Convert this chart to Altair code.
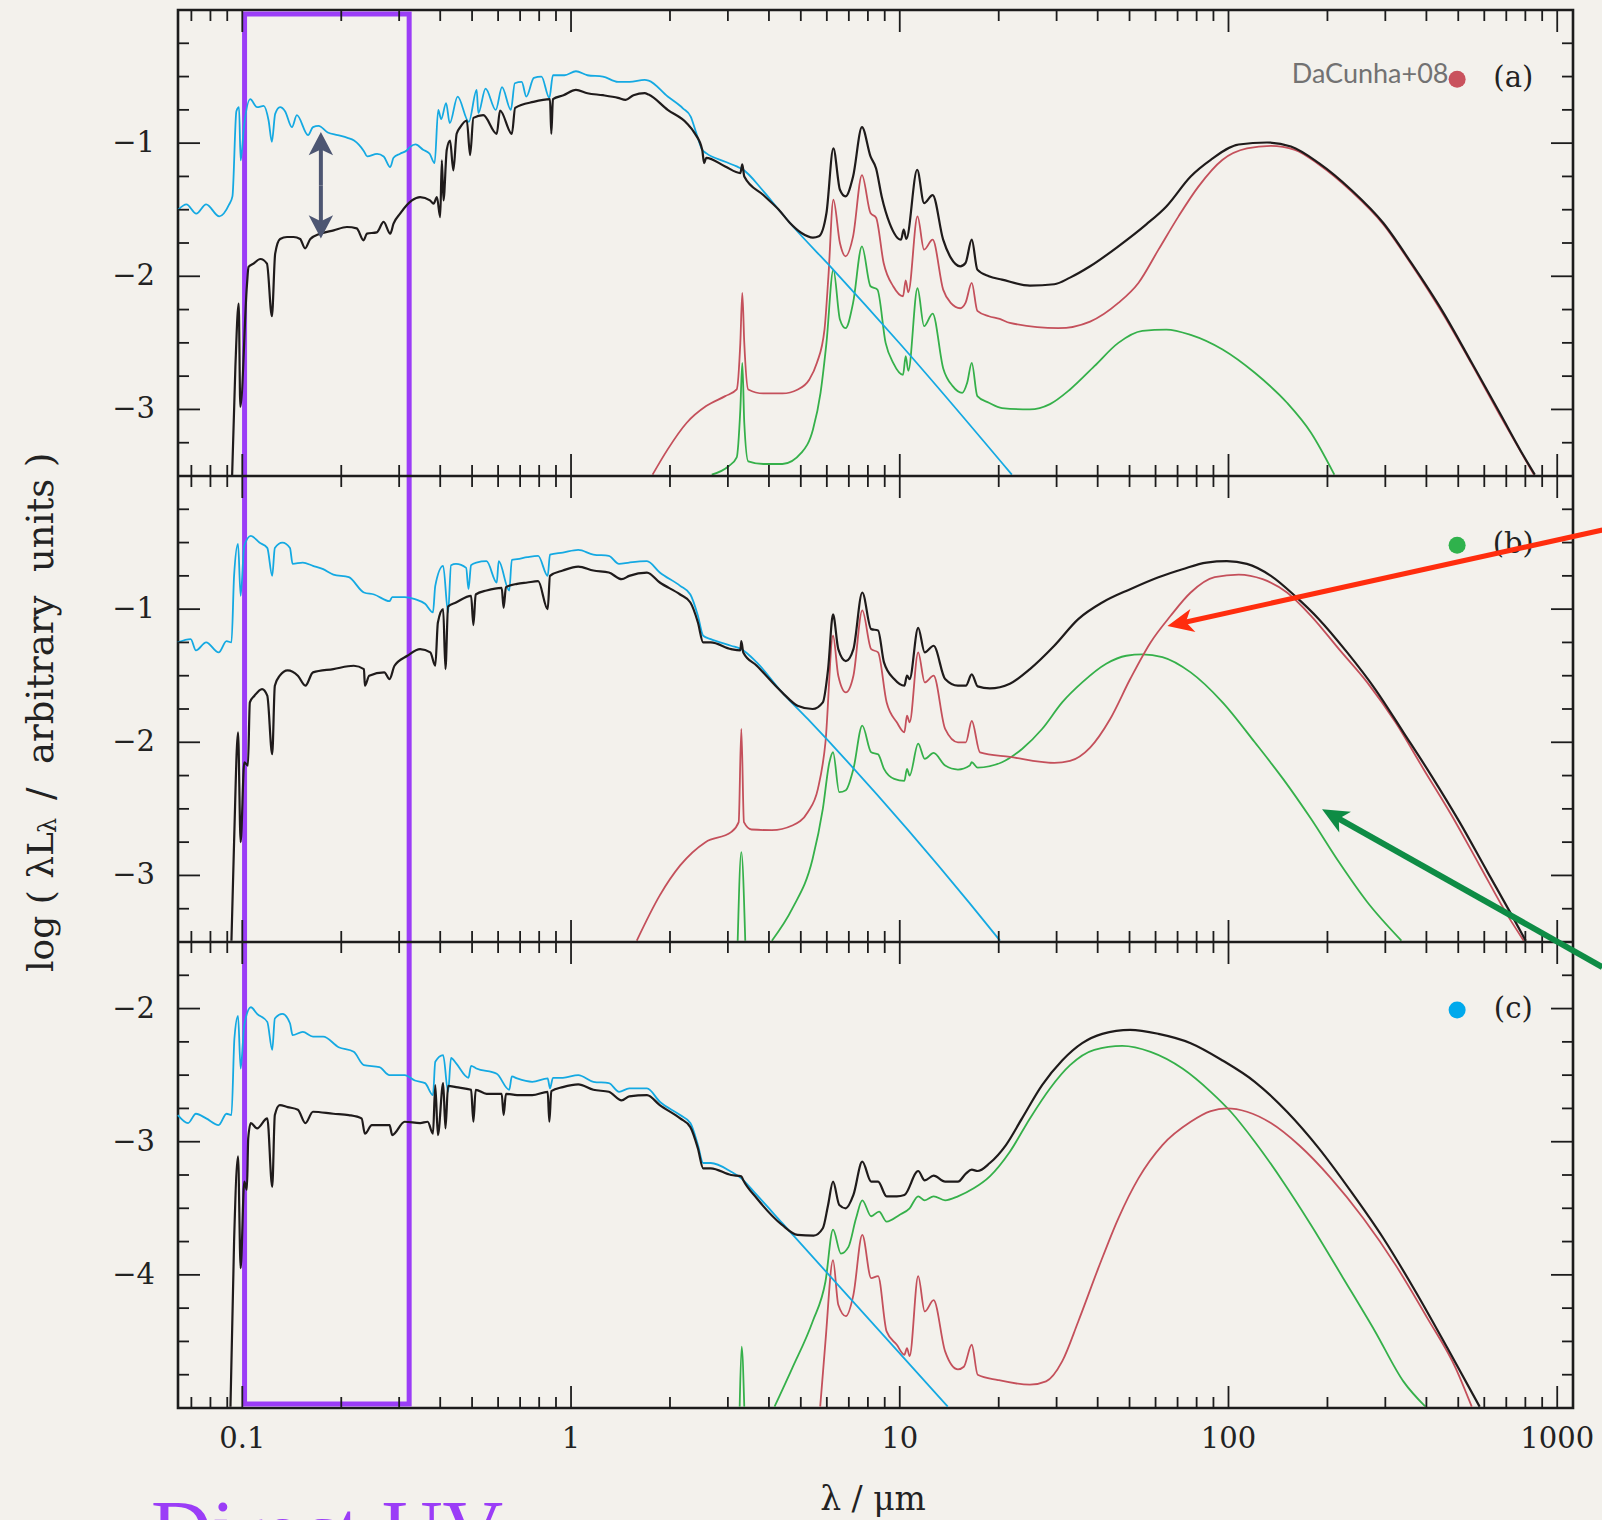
import altair as alt
import pandas as pd

# ---------------------------------------------------------------------------
# Data: (log10 wavelength [um], log lambda L_lambda)
# ---------------------------------------------------------------------------
# Panel (a)
A_STARS = [(-1.195, -1.50), (-1.17, -1.46), (-1.14, -1.53), (-1.11, -1.46), (-1.07, -1.55), (-1.04, -1.46),
           (-1.03, -1.40), (-1.018, -0.76), (-1.010, -0.73), (-1.005, -1.13), (-0.995, -0.88), (-0.976, -0.67),
           (-0.955, -0.73), (-0.935, -0.72), (-0.92, -0.83), (-0.91, -0.99), (-0.90, -0.78), (-0.885, -0.73),
           (-0.87, -0.76), (-0.849, -0.88), (-0.834, -0.79), (-0.80, -0.94), (-0.785, -0.88), (-0.768, -0.87),
           (-0.74, -0.92), (-0.71, -0.94), (-0.68, -0.96), (-0.66, -0.98), (-0.63, -1.06), (-0.62, -1.10),
           (-0.59, -1.08), (-0.57, -1.10), (-0.55, -1.18), (-0.54, -1.11), (-0.52, -1.08), (-0.50, -1.055),
           (-0.49, -1.03), (-0.473, -1.01), (-0.45, -1.05), (-0.43, -1.08), (-0.415, -1.15), (-0.404, -0.75),
           (-0.395, -0.82), (-0.38, -0.70), (-0.369, -0.85), (-0.345, -0.65), (-0.311, -0.84), (-0.287, -0.60),
           (-0.282, -0.775), (-0.26, -0.59), (-0.229, -0.75), (-0.21, -0.58), (-0.183, -0.75), (-0.171, -0.55),
           (-0.15, -0.54), (-0.136, -0.65), (-0.113, -0.51), (-0.09, -0.50), (-0.066, -0.66), (-0.055, -0.49),
           (-0.02, -0.49), (0.015, -0.46), (0.05, -0.49), (0.097, -0.50), (0.143, -0.54), (0.178, -0.54),
           (0.224, -0.525), (0.236, -0.53), (0.294, -0.65), (0.341, -0.74), (0.364, -0.80), (0.381, -0.925),
           (0.399, -1.05), (0.411, -1.075), (0.469, -1.14), (0.504, -1.175), (0.521, -1.195), (0.585, -1.36),
           (0.632, -1.50), (0.666, -1.60), (0.794, -1.94), (1.0, -2.505), (1.341, -3.49)]
A_TOTAL = [(-1.031, -3.5), (-1.021, -2.68), (-1.011, -2.205), (-1.006, -2.98), (-0.986, -2.07), (-0.981, -1.93),
           (-0.966, -1.905), (-0.945, -1.87), (-0.925, -1.905), (-0.91, -2.30), (-0.90, -1.83), (-0.885, -1.72),
           (-0.864, -1.705), (-0.844, -1.705), (-0.824, -1.72), (-0.809, -1.79), (-0.793, -1.72), (-0.763, -1.68),
           (-0.722, -1.655), (-0.682, -1.63), (-0.652, -1.64), (-0.631, -1.73), (-0.621, -1.68), (-0.591, -1.67),
           (-0.57, -1.592), (-0.55, -1.68), (-0.54, -1.605), (-0.52, -1.53), (-0.50, -1.467), (-0.484, -1.43),
           (-0.459, -1.405), (-0.429, -1.43), (-0.418, -1.455), (-0.408, -1.405), (-0.398, -1.555), (-0.393, -1.13),
           (-0.388, -1.43), (-0.378, -1.05), (-0.368, -0.98), (-0.358, -1.205), (-0.348, -0.93), (-0.337, -0.88),
           (-0.317, -0.83), (-0.307, -1.09), (-0.297, -0.81), (-0.267, -0.79), (-0.226, -0.93), (-0.216, -0.755),
           (-0.18, -0.93), (-0.17, -0.735), (-0.1145, -0.69), (-0.064, -0.67), (-0.06, -0.93), (-0.055, -0.67),
           (-0.023, -0.64), (0.015, -0.60), (0.05, -0.625), (0.097, -0.64), (0.143, -0.66), (0.166, -0.675),
           (0.19, -0.64), (0.224, -0.625), (0.236, -0.635), (0.294, -0.75), (0.352, -0.85), (0.376, -0.925),
           (0.399, -1.05), (0.405, -1.15), (0.411, -1.11), (0.469, -1.175), (0.515, -1.225), (0.521, -1.16),
           (0.527, -1.25), (0.585, -1.39), (0.632, -1.50), (0.666, -1.60), (0.701, -1.675), (0.736, -1.71),
           (0.754, -1.70), (0.777, -1.525), (0.798, -1.04), (0.818, -1.35), (0.835, -1.40), (0.858, -1.25),
           (0.885, -0.88), (0.911, -1.10), (0.928, -1.19), (0.945, -1.40), (0.969, -1.60), (1.004, -1.725),
           (1.012, -1.65), (1.02, -1.72), (1.053, -1.20), (1.074, -1.45), (1.10, -1.39), (1.132, -1.725),
           (1.155, -1.86), (1.184, -1.925), (1.20, -1.90), (1.219, -1.725), (1.236, -1.95), (1.271, -2.0),
           (1.311, -2.025), (1.396, -2.07), (1.47, -2.06), (1.518, -2.01), (1.579, -1.925), (1.665, -1.775),
           (1.75, -1.61), (1.811, -1.475), (1.885, -1.25), (1.946, -1.125), (2.031, -1.01), (2.117, -0.995),
           (2.19, -1.025), (2.275, -1.15), (2.373, -1.35), (2.471, -1.60), (2.556, -1.90), (2.654, -2.275),
           (2.74, -2.65), (2.825, -3.025), (2.898, -3.35), (2.932, -3.49)]
A_ISM = [(0.248, -3.49), (0.294, -3.30), (0.352, -3.10), (0.411, -2.975), (0.469, -2.90), (0.504, -2.85),
         (0.515, -2.50), (0.521, -2.125), (0.527, -2.50), (0.539, -2.85), (0.585, -2.88), (0.643, -2.88),
         (0.69, -2.85), (0.725, -2.775), (0.748, -2.65), (0.771, -2.40), (0.783, -2.0), (0.798, -1.425),
         (0.818, -1.75), (0.835, -1.85), (0.858, -1.70), (0.885, -1.24), (0.911, -1.525), (0.928, -1.56),
         (0.951, -1.90), (0.98, -2.075), (1.01, -2.15), (1.018, -2.03), (1.026, -2.12), (1.054, -1.55),
         (1.074, -1.80), (1.10, -1.725), (1.132, -2.10), (1.155, -2.20), (1.184, -2.24), (1.20, -2.20),
         (1.219, -2.05), (1.236, -2.26), (1.271, -2.30), (1.304, -2.32), (1.335, -2.35), (1.482, -2.39),
         (1.579, -2.34), (1.665, -2.20), (1.726, -2.05), (1.787, -1.80), (1.848, -1.55), (1.909, -1.325),
         (1.982, -1.125), (2.056, -1.04), (2.129, -1.02), (2.202, -1.05), (2.275, -1.16), (2.373, -1.36),
         (2.471, -1.61), (2.556, -1.91), (2.654, -2.29), (2.74, -2.66), (2.825, -3.04), (2.929, -3.49)]
A_BC = [(0.428, -3.49), (0.48, -3.425), (0.504, -3.36), (0.515, -3.0), (0.521, -2.65), (0.527, -3.1),
        (0.539, -3.39), (0.585, -3.41), (0.643, -3.41), (0.701, -3.325), (0.736, -3.15), (0.759, -2.875),
        (0.777, -2.5), (0.798, -1.95), (0.818, -2.325), (0.835, -2.39), (0.858, -2.20), (0.885, -1.775),
        (0.911, -2.075), (0.932, -2.10), (0.957, -2.50), (0.98, -2.65), (1.01, -2.74), (1.018, -2.60),
        (1.026, -2.71), (1.054, -2.09), (1.074, -2.375), (1.10, -2.28), (1.132, -2.69), (1.161, -2.825),
        (1.19, -2.875), (1.205, -2.80), (1.219, -2.65), (1.236, -2.90), (1.271, -2.95), (1.311, -2.99),
        (1.396, -3.0), (1.457, -2.96), (1.518, -2.85), (1.592, -2.675), (1.665, -2.50), (1.738, -2.41),
        (1.811, -2.40), (1.885, -2.44), (1.982, -2.55), (2.08, -2.725), (2.178, -2.95), (2.251, -3.175),
        (2.322, -3.49)]

# Panel (b)
B_STARS = [(-1.196, -1.25), (-1.157, -1.225), (-1.141, -1.31), (-1.11, -1.25), (-1.072, -1.325), (-1.048, -1.24),
           (-1.033, -1.25), (-1.025, -0.75), (-1.013, -0.51), (-1.005, -0.90), (-0.994, -0.525), (-0.974, -0.45),
           (-0.948, -0.50), (-0.924, -0.54), (-0.909, -0.75), (-0.901, -0.54), (-0.878, -0.50), (-0.855, -0.54),
           (-0.847, -0.66), (-0.816, -0.65), (-0.785, -0.675), (-0.754, -0.70), (-0.723, -0.74), (-0.676, -0.76),
           (-0.63, -0.875), (-0.599, -0.89), (-0.552, -0.94), (-0.544, -0.91), (-0.506, -0.91), (-0.475, -0.925),
           (-0.444, -0.96), (-0.42, -1.025), (-0.413, -0.825), (-0.389, -0.675), (-0.374, -1.025), (-0.365, -0.67),
           (-0.35, -0.66), (-0.319, -0.69), (-0.312, -0.85), (-0.304, -0.67), (-0.288, -0.65), (-0.257, -0.64),
           (-0.226, -0.80), (-0.22, -0.64), (-0.188, -0.86), (-0.18, -0.63), (-0.164, -0.625), (-0.133, -0.61),
           (-0.1, -0.60), (-0.071, -0.75), (-0.064, -0.59), (-0.025, -0.575), (0.022, -0.555), (0.068, -0.59),
           (0.115, -0.60), (0.146, -0.66), (0.177, -0.65), (0.231, -0.64), (0.27, -0.725), (0.332, -0.825),
           (0.363, -0.89), (0.386, -1.05), (0.402, -1.20), (0.425, -1.225), (0.487, -1.275), (0.518, -1.30),
           (0.565, -1.40), (0.642, -1.625), (0.72, -1.825), (1.213, -3.21), (1.305, -3.49)]
B_TOTAL = [(-1.033, -3.49), (-1.025, -2.75), (-1.013, -1.925), (-1.005, -2.75), (-0.994, -2.15), (-0.983, -2.175),
           (-0.977, -1.70), (-0.963, -1.65), (-0.94, -1.60), (-0.924, -1.65), (-0.909, -2.09), (-0.901, -1.575),
           (-0.886, -1.50), (-0.862, -1.46), (-0.831, -1.50), (-0.808, -1.575), (-0.785, -1.475), (-0.723, -1.45),
           (-0.661, -1.425), (-0.63, -1.45), (-0.627, -1.575), (-0.614, -1.50), (-0.568, -1.475), (-0.552, -1.525),
           (-0.537, -1.425), (-0.498, -1.35), (-0.459, -1.30), (-0.428, -1.325), (-0.413, -1.425), (-0.405, -1.10),
           (-0.389, -1.0), (-0.382, -1.45), (-0.374, -0.98), (-0.35, -0.95), (-0.304, -0.90), (-0.297, -1.12),
           (-0.29, -0.89), (-0.257, -0.86), (-0.211, -0.84), (-0.205, -0.99), (-0.198, -0.835), (-0.164, -0.81),
           (-0.133, -0.80), (-0.1, -0.79), (-0.071, -1.0), (-0.064, -0.75), (-0.025, -0.71), (0.022, -0.68),
           (0.068, -0.71), (0.115, -0.725), (0.154, -0.775), (0.177, -0.75), (0.231, -0.725), (0.27, -0.80),
           (0.332, -0.89), (0.363, -0.95), (0.386, -1.10), (0.402, -1.25), (0.425, -1.25), (0.487, -1.30),
           (0.515, -1.31), (0.518, -1.24), (0.524, -1.325), (0.565, -1.425), (0.642, -1.625), (0.689, -1.725),
           (0.735, -1.75), (0.766, -1.70), (0.782, -1.45), (0.797, -1.04), (0.813, -1.30), (0.836, -1.39),
           (0.859, -1.30), (0.886, -0.875), (0.913, -1.15), (0.934, -1.16), (0.952, -1.40), (0.983, -1.525),
           (1.014, -1.575), (1.022, -1.50), (1.03, -1.525), (1.056, -1.14), (1.076, -1.325), (1.103, -1.275),
           (1.138, -1.525), (1.177, -1.575), (1.201, -1.575), (1.219, -1.49), (1.237, -1.58), (1.274, -1.595),
           (1.335, -1.56), (1.396, -1.45), (1.47, -1.275), (1.543, -1.075), (1.616, -0.95), (1.701, -0.85),
           (1.787, -0.76), (1.86, -0.70), (1.933, -0.65), (1.995, -0.64), (2.056, -0.66), (2.129, -0.75),
           (2.202, -0.90), (2.275, -1.075), (2.361, -1.325), (2.446, -1.60), (2.532, -1.925), (2.617, -2.25),
           (2.703, -2.60), (2.788, -2.975), (2.862, -3.30), (2.904, -3.49)]
B_ISM = [(0.20, -3.49), (0.27, -3.15), (0.332, -2.925), (0.409, -2.75), (0.487, -2.675), (0.51, -2.60),
         (0.518, -1.90), (0.526, -2.60), (0.549, -2.655), (0.611, -2.66), (0.673, -2.625), (0.72, -2.525),
         (0.751, -2.35), (0.774, -2.0), (0.797, -1.20), (0.813, -1.50), (0.836, -1.625), (0.859, -1.50),
         (0.886, -1.01), (0.913, -1.30), (0.934, -1.325), (0.96, -1.70), (0.991, -1.85), (1.014, -1.925),
         (1.022, -1.80), (1.03, -1.85), (1.056, -1.325), (1.076, -1.55), (1.103, -1.50), (1.138, -1.90),
         (1.177, -2.0), (1.201, -2.0), (1.219, -1.84), (1.244, -2.075), (1.335, -2.11), (1.47, -2.155),
         (1.518, -2.14), (1.579, -2.04), (1.64, -1.825), (1.701, -1.525), (1.763, -1.25), (1.824, -1.05),
         (1.885, -0.875), (1.958, -0.76), (2.031, -0.74), (2.104, -0.775), (2.178, -0.875), (2.251, -1.05),
         (2.336, -1.30), (2.422, -1.55), (2.508, -1.85), (2.593, -2.20), (2.679, -2.55), (2.764, -2.925),
         (2.849, -3.30), (2.898, -3.49)]
B_BC_SPIKE = [(0.507, -3.49), (0.518, -2.825), (0.53, -3.49)]
B_BC = [(0.611, -3.49), (0.673, -3.25), (0.735, -2.875), (0.766, -2.50), (0.786, -2.15), (0.797, -2.075),
        (0.816, -2.375), (0.836, -2.36), (0.859, -2.20), (0.886, -1.875), (0.913, -2.075), (0.934, -2.09),
        (0.952, -2.20), (0.983, -2.275), (1.014, -2.29), (1.022, -2.20), (1.03, -2.25), (1.056, -2.01),
        (1.076, -2.125), (1.103, -2.08), (1.138, -2.175), (1.177, -2.205), (1.213, -2.175), (1.219, -2.15),
        (1.237, -2.19), (1.311, -2.15), (1.372, -2.05), (1.433, -1.90), (1.494, -1.70), (1.555, -1.55),
        (1.628, -1.41), (1.689, -1.35), (1.738, -1.34), (1.799, -1.36), (1.885, -1.475), (1.982, -1.70),
        (2.08, -2.0), (2.166, -2.275), (2.251, -2.575), (2.336, -2.90), (2.422, -3.20), (2.526, -3.49)]

# Panel (c)
C_STARS = [(-1.196, -2.80), (-1.165, -2.86), (-1.141, -2.79), (-1.11, -2.825), (-1.072, -2.875), (-1.048, -2.79),
           (-1.033, -2.80), (-1.024, -2.225), (-1.013, -2.055), (-1.005, -2.45), (-0.994, -2.125), (-0.974, -1.99),
           (-0.955, -2.04), (-0.924, -2.10), (-0.909, -2.31), (-0.901, -2.075), (-0.878, -2.04), (-0.855, -2.11),
           (-0.847, -2.20), (-0.816, -2.175), (-0.785, -2.21), (-0.754, -2.21), (-0.707, -2.29), (-0.661, -2.325),
           (-0.63, -2.425), (-0.583, -2.44), (-0.552, -2.50), (-0.506, -2.50), (-0.475, -2.54), (-0.444, -2.56),
           (-0.42, -2.65), (-0.413, -2.40), (-0.389, -2.35), (-0.374, -2.625), (-0.365, -2.37), (-0.35, -2.41),
           (-0.312, -2.52), (-0.304, -2.43), (-0.288, -2.45), (-0.226, -2.49), (-0.188, -2.61), (-0.18, -2.51),
           (-0.164, -2.525), (-0.118, -2.55), (-0.071, -2.525), (-0.064, -2.60), (-0.055, -2.52), (-0.025, -2.52),
           (0.022, -2.50), (0.068, -2.55), (0.115, -2.56), (0.146, -2.625), (0.177, -2.60), (0.231, -2.60),
           (0.27, -2.70), (0.332, -2.80), (0.363, -2.86), (0.386, -3.025), (0.402, -3.16), (0.425, -3.16),
           (0.487, -3.225), (0.518, -3.275), (0.565, -3.40), (0.642, -3.61), (1.146, -4.99)]
C_TOTAL = [(-1.036, -4.99), (-1.025, -3.75), (-1.013, -3.11), (-1.005, -3.95), (-0.994, -3.30), (-0.986, -3.36),
           (-0.982, -2.975), (-0.974, -2.86), (-0.955, -2.90), (-0.924, -2.825), (-0.909, -3.34), (-0.901, -2.80),
           (-0.886, -2.725), (-0.862, -2.74), (-0.831, -2.76), (-0.808, -2.86), (-0.785, -2.775), (-0.723, -2.79),
           (-0.676, -2.80), (-0.637, -2.825), (-0.627, -2.94), (-0.606, -2.875), (-0.552, -2.875), (-0.544, -2.95),
           (-0.506, -2.85), (-0.459, -2.86), (-0.436, -2.85), (-0.42, -2.94), (-0.413, -2.575), (-0.405, -2.95),
           (-0.389, -2.56), (-0.382, -2.90), (-0.374, -2.58), (-0.35, -2.59), (-0.304, -2.61), (-0.297, -2.85),
           (-0.29, -2.61), (-0.257, -2.64), (-0.211, -2.64), (-0.205, -2.80), (-0.198, -2.64), (-0.164, -2.65),
           (-0.118, -2.65), (-0.071, -2.625), (-0.066, -2.85), (-0.06, -2.62), (-0.025, -2.59), (0.022, -2.57),
           (0.068, -2.61), (0.115, -2.625), (0.154, -2.69), (0.177, -2.66), (0.231, -2.65), (0.27, -2.725),
           (0.332, -2.825), (0.363, -2.89), (0.386, -3.05), (0.402, -3.20), (0.425, -3.20), (0.487, -3.25),
           (0.518, -3.26), (0.524, -3.29), (0.565, -3.425), (0.642, -3.625), (0.689, -3.70), (0.738, -3.705),
           (0.766, -3.65), (0.782, -3.475), (0.797, -3.30), (0.816, -3.475), (0.836, -3.50), (0.859, -3.40),
           (0.886, -3.15), (0.913, -3.30), (0.934, -3.30), (0.96, -3.41), (0.991, -3.41), (1.014, -3.40),
           (1.056, -3.22), (1.076, -3.29), (1.103, -3.255), (1.138, -3.30), (1.177, -3.30), (1.201, -3.24),
           (1.219, -3.21), (1.237, -3.22), (1.274, -3.16), (1.323, -3.025), (1.372, -2.825), (1.433, -2.575),
           (1.494, -2.39), (1.555, -2.26), (1.616, -2.19), (1.701, -2.16), (1.787, -2.19), (1.885, -2.26),
           (1.982, -2.39), (2.08, -2.55), (2.178, -2.775), (2.275, -3.05), (2.373, -3.375), (2.471, -3.725),
           (2.569, -4.125), (2.666, -4.55), (2.764, -4.99)]
C_ISM = [(0.758, -4.99), (0.774, -4.50), (0.797, -3.89), (0.813, -4.225), (0.836, -4.31), (0.859, -4.15),
         (0.886, -3.70), (0.913, -4.025), (0.934, -4.01), (0.96, -4.425), (0.991, -4.525), (1.014, -4.60),
         (1.022, -4.55), (1.03, -4.61), (1.056, -4.01), (1.076, -4.275), (1.103, -4.19), (1.138, -4.575),
         (1.177, -4.71), (1.195, -4.69), (1.219, -4.525), (1.237, -4.75), (1.299, -4.79), (1.396, -4.825),
         (1.445, -4.80), (1.494, -4.65), (1.543, -4.35), (1.604, -3.95), (1.665, -3.575), (1.726, -3.275),
         (1.799, -3.025), (1.885, -2.85), (1.946, -2.77), (1.995, -2.75), (2.056, -2.775), (2.129, -2.86),
         (2.214, -3.025), (2.312, -3.275), (2.41, -3.575), (2.508, -3.925), (2.605, -4.325), (2.691, -4.70),
         (2.74, -4.99)]
C_BC_SPIKE = [(0.513, -4.99), (0.519, -4.54), (0.527, -4.99)]
C_BC = [(0.619, -4.99), (0.673, -4.70), (0.735, -4.35), (0.774, -4.05), (0.797, -3.66), (0.821, -3.84),
        (0.844, -3.79), (0.867, -3.575), (0.886, -3.44), (0.913, -3.56), (0.937, -3.525), (0.96, -3.60),
        (0.999, -3.55), (1.03, -3.50), (1.056, -3.41), (1.076, -3.44), (1.103, -3.41), (1.138, -3.44),
        (1.177, -3.41), (1.225, -3.35), (1.274, -3.26), (1.335, -3.075), (1.396, -2.825), (1.457, -2.60),
        (1.518, -2.425), (1.592, -2.31), (1.677, -2.28), (1.763, -2.325), (1.86, -2.45), (1.946, -2.625),
        (2.007, -2.775), (2.08, -3.0), (2.166, -3.30), (2.251, -3.625), (2.349, -4.025), (2.446, -4.425),
        (2.532, -4.80), (2.599, -4.99)]

# axis ticks / labels
X_MAJOR = [0.1, 1, 10, 100, 1000]
X_LABELS = ["0.1", "1", "10", "100", "1000"]
Y_MAJOR = {"a": [-1, -2, -3], "b": [-1, -2, -3], "c": [-2, -3, -4]}
PANEL_RANGE = {"a": (-3.5, 0.0), "b": (-3.5, 0.0), "c": (-5.0, -1.5)}
OFF = {"a": 10.5, "b": 7.0, "c": 5.0}   # stacking offsets (panel a on top)
# panel tag: (panel, text, dot colour, log L level of the tag)
PANEL_TAGS = [("a", "(a)", "#C9525D", -0.51), ("b", "(b)", "#2FB24C", -0.51), ("c", "(c)", "#00A9EC", -2.0)]

# annotations (data units)
UV_BOX = dict(x=0.1016, x2=0.3218)
DOUBLE_ARROW = dict(lam=0.1734, top=-0.917, bottom=-1.717)          # panel a
RED_ARROW = dict(lam0=1372.0, v0=-0.406, lam1=65.2, v1=-1.127)      # panel b
GREEN_ARROW = dict(lam0=1372.0, v0=-3.688, lam1=192.6, v1=-2.503)   # panel b

# ---------------------------------------------------------------------------
W, H = 1395, 1398
YMAX = 10.5
PXU = H / YMAX
LOG_MIN, LOG_MAX = -1.1956, 3.048
PX_DEC = W / (LOG_MAX - LOG_MIN)
XMIN, XMAX = 10 ** LOG_MIN, 10 ** LOG_MAX

COL = {"cyan": "#14A9E2", "black": "#1F1B1B", "red": "#C4505B", "green": "#35B04A"}
LW = {"cyan": 1.8, "black": 2.2, "red": 1.8, "green": 1.8}
PURPLE = "#9B3DF7"
BG = "#F3F1EC"
SERIF = "DejaVu Serif"

XS = alt.Scale(type="log", domain=[XMIN, XMAX], nice=False)
YS = alt.Scale(domain=[0, YMAX], nice=False, zero=False)

SERIES = [
    ("a", "cyan", A_STARS), ("a", "black", A_TOTAL), ("a", "red", A_ISM), ("a", "green", A_BC),
    ("b", "cyan", B_STARS), ("b", "black", B_TOTAL), ("b", "red", B_ISM), ("b", "green", B_BC),
    ("b", "green", B_BC_SPIKE),
    ("c", "cyan", C_STARS), ("c", "black", C_TOTAL), ("c", "red", C_ISM), ("c", "green", C_BC),
    ("c", "green", C_BC_SPIKE),
]
rows = []
for i, (panel, comp, pts) in enumerate(SERIES):
    for j, (lx, v) in enumerate(pts):
        rows.append(dict(key=str(i), comp=comp, lam=10 ** lx, y=v + OFF[panel], order=j))
curves = pd.DataFrame(rows)

layers = []
for comp in ["green", "red", "cyan", "black"]:
    layers.append(
        alt.Chart(curves[curves.comp == comp]).mark_line(
            color=COL[comp], strokeWidth=LW[comp], strokeJoin="round", interpolate="monotone"
        ).encode(
            x=alt.X("lam:Q", scale=XS, axis=None),
            y=alt.Y("y:Q", scale=YS, axis=None),
            detail="key:N",
            order="order:Q",
        )
    )

# ---- ticks (inward, like the reference) ----
seg = []
x_minor = [m * 10 ** k for k in range(-2, 3) for m in range(2, 10) if XMIN < m * 10 ** k < XMAX]
for yb, mode in [(10.5, "down"), (7.0, "both"), (3.5, "both"), (0.0, "up")]:
    for v, L in [(t, 22) for t in X_MAJOR] + [(t, 11) for t in x_minor]:
        d = L / PXU
        top = yb + d if mode in ("up", "both") else yb
        bot = yb - d if mode in ("down", "both") else yb
        seg.append(dict(x=v, x2=v, y=bot, y2=top))
for panel, (lo, hi) in PANEL_RANGE.items():
    n = int(round((hi - lo) / 0.25))
    for k in range(1, n):
        v = lo + 0.25 * k
        L = 22 if abs(v - round(v)) < 1e-9 else 11
        fac = 10 ** (L / PX_DEC)
        yv = v + OFF[panel]
        seg.append(dict(x=XMIN, x2=XMIN * fac, y=yv, y2=yv))
        seg.append(dict(x=XMAX / fac, x2=XMAX, y=yv, y2=yv))
ticks = pd.DataFrame(seg)
tick_layer = alt.Chart(ticks).mark_rule(color="#1c1c1c", strokeWidth=1.8).encode(
    x=alt.X("x:Q", scale=XS, axis=None), x2="x2:Q",
    y=alt.Y("y:Q", scale=YS, axis=None), y2="y2:Q")

borders = pd.DataFrame([dict(x=XMIN, x2=XMAX, y=7.0), dict(x=XMIN, x2=XMAX, y=3.5)])
border_layer = alt.Chart(borders).mark_rule(color="#1c1c1c", strokeWidth=2.6).encode(
    x=alt.X("x:Q", scale=XS, axis=None), x2="x2:Q", y=alt.Y("y:Q", scale=YS, axis=None))

# ---- tick labels ----
ylab = pd.DataFrame([dict(y=v + OFF[p], label="\u2212" + str(abs(v))) for p, vs in Y_MAJOR.items() for v in vs])
ylab_layer = alt.Chart(ylab).mark_text(align="right", baseline="middle", font=SERIF, fontSize=29,
                                       color="#222222").encode(
    x=alt.value(-23), y=alt.Y("y:Q", scale=YS, axis=None), text="label:N")
xlab = pd.DataFrame(dict(lam=X_MAJOR, label=X_LABELS))
xlab_layer = alt.Chart(xlab).mark_text(align="center", baseline="middle", font=SERIF, fontSize=29,
                                       color="#222222").encode(
    x=alt.X("lam:Q", scale=XS, axis=None), y=alt.value(H + 31), text="label:N")

# ---- axis titles ----
one = pd.DataFrame({"k": [0]})
xtitle = alt.Chart(one).mark_text(align="center", baseline="middle", font=SERIF, fontSize=33,
                                  color="#222222", text="\u03bb / \u03bcm").encode(
    x=alt.value(695), y=alt.value(1490))
yt1 = alt.Chart(one).mark_text(align="left", baseline="middle", angle=270, font=SERIF, fontSize=36,
                               color="#222222", text="log ( \u03bbL").encode(
    x=alt.value(-136), y=alt.value(962))
yt2 = alt.Chart(one).mark_text(align="left", baseline="middle", angle=270, font=SERIF, fontSize=24,
                               color="#222222", text="\u03bb").encode(
    x=alt.value(-129), y=alt.value(823))
yt3 = alt.Chart(one).mark_text(align="left", baseline="middle", angle=270, font=SERIF, fontSize=37,
                               color="#222222",
                               text="/\u00a0\u00a0arbitrary\u00a0\u00a0units\u00a0)").encode(
    x=alt.value(-136), y=alt.value(790))
direct_uv = alt.Chart(one).mark_text(align="left", baseline="alphabetic", font="Liberation Serif",
                                     fontSize=84, color=PURPLE, text="Direct UV").encode(
    x=alt.value(-27), y=alt.value(1549))

# ---- panel tags ----
tags = pd.DataFrame([dict(lam=735.0, y=lv + OFF[p], t=t) for p, t, _, lv in PANEL_TAGS])
tag_layer = alt.Chart(tags).mark_text(align="center", baseline="middle", font=SERIF, fontSize=29,
                                      color="#222222").encode(
    x=alt.X("lam:Q", scale=XS, axis=None), y=alt.Y("y:Q", scale=YS, axis=None), text="t:N")
dots = pd.DataFrame([dict(lam=496.0, y=lv - 0.01 + OFF[p], c=c) for p, _, c, lv in PANEL_TAGS])
dot_layer = alt.Chart(dots).mark_point(filled=True, size=290, opacity=1).encode(
    x=alt.X("lam:Q", scale=XS, axis=None), y=alt.Y("y:Q", scale=YS, axis=None),
    color=alt.Color("c:N", scale=None))
dacunha = alt.Chart(pd.DataFrame([dict(lam=467.0, y=-0.545 + OFF["a"])])).mark_text(
    align="right", baseline="alphabetic", font="Lato", fontSize=27, color="#727272", text="DaCunha+08"
).encode(x=alt.X("lam:Q", scale=XS, axis=None), y=alt.Y("y:Q", scale=YS, axis=None))

# ---- UV box ----
box = pd.DataFrame([dict(x=UV_BOX["x"], x2=UV_BOX["x2"], y=10.47, y2=0.03)])
box_layer = alt.Chart(box).mark_rect(fillOpacity=0, stroke=PURPLE, strokeWidth=5).encode(
    x=alt.X("x:Q", scale=XS, axis=None), x2="x2:Q", y=alt.Y("y:Q", scale=YS, axis=None), y2="y2:Q")

# ---- arrows ----
HEAD = "M0,0L-2,-0.9L-1.45,0L-2,0.9Z"
HEAD_WIDE = "M0,0L-2,-1.05L-1.5,0L-2,1.05Z"


def arrow(x0, y0, x1, y1, neck_frac, color, width, angle, size, shape):
    # shaft from start to near the tip, then a filled head at the tip
    xn = x0 * (x1 / x0) ** neck_frac
    yn = y0 + (y1 - y0) * neck_frac
    shaft = alt.Chart(pd.DataFrame([dict(x=x0, x2=xn, y=y0, y2=yn)])).mark_rule(
        color=color, strokeWidth=width).encode(
        x=alt.X("x:Q", scale=XS, axis=None), x2="x2:Q", y=alt.Y("y:Q", scale=YS, axis=None), y2="y2:Q")
    head = alt.Chart(pd.DataFrame([dict(x=x1, y=y1)])).mark_point(
        shape=shape, filled=True, size=size, angle=angle, color=color, opacity=1).encode(
        x=alt.X("x:Q", scale=XS, axis=None), y=alt.Y("y:Q", scale=YS, axis=None))
    return [shaft, head]


ra = RED_ARROW
ga = GREEN_ARROW
da = DOUBLE_ARROW
arrows = []
arrows += arrow(ra["lam0"], ra["v0"] + OFF["b"], ra["lam1"], ra["v1"] + OFF["b"], 0.965,
                "#FF2D0E", 5, 167.6, 680, HEAD)
arrows += arrow(ga["lam0"], ga["v0"] + OFF["b"], ga["lam1"], ga["v1"] + OFF["b"], 0.955,
                "#0E8C45", 6, 209.4, 700, HEAD)
mid = (da["top"] + da["bottom"]) / 2 + OFF["a"]
arrows += arrow(da["lam"], mid, da["lam"], da["top"] + OFF["a"], 0.85, "#4D5672", 4, 270, 540, HEAD_WIDE)
arrows += arrow(da["lam"], mid, da["lam"], da["bottom"] + OFF["a"], 0.85, "#4D5672", 4, 90, 540, HEAD_WIDE)

chart = alt.layer(
    box_layer, *layers, border_layer, tick_layer, ylab_layer, xlab_layer, xtitle, yt1, yt2, yt3,
    direct_uv, tag_layer, dot_layer, dacunha, *arrows
).properties(
    width=W, height=H,
    autosize=alt.AutoSizeParams(type="none"),
    padding={"left": 178, "top": 10, "right": 29, "bottom": 112},
    background=BG,
).configure_view(stroke="#1c1c1c", strokeWidth=2.6)

chart.save("out.html", embed_options={"renderer": "svg", "actions": False})
